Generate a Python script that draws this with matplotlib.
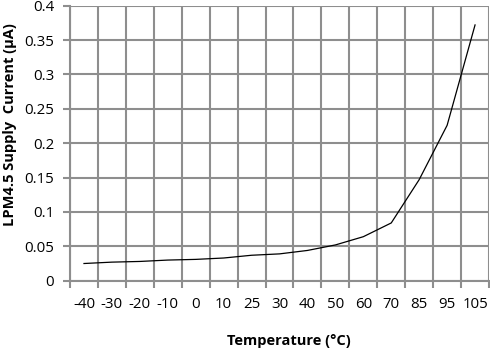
import matplotlib
matplotlib.use("Agg")
import matplotlib.pyplot as plt
import numpy as np

categories = ["-40", "-30", "-20", "-10", "0", "10", "25", "30", "40", "50", "60", "70", "85", "95", "105"]
current_uA = [0.025, 0.027, 0.028, 0.030, 0.031, 0.033, 0.037, 0.039, 0.044, 0.052, 0.064, 0.084, 0.147, 0.226, 0.372]
yticks = [0, 0.05, 0.1, 0.15, 0.2, 0.25, 0.3, 0.35, 0.4]
ytick_labels = ["0", "0.05", "0.1", "0.15", "0.2", "0.25", "0.3", "0.35", "0.4"]

plt.rcParams['font.family'] = ['Open Sans', 'DejaVu Sans']
grid_color = '#8e8e8e'

fig = plt.figure(figsize=(4.9, 3.51), dpi=100)
ax = fig.add_axes([0.1429, 0.2003, 0.998 - 0.1429, 0.9838 - 0.2003])

x = np.arange(len(categories))
ax.plot(x, current_uA, color='black', linewidth=0.9, zorder=3)

ax.set_xlim(-0.5, len(categories) - 0.5)
ax.set_ylim(0, 0.4)
ax.set_xticks(x)
ax.set_xticklabels(categories, fontsize=10.8)
ax.set_xticks(np.arange(-0.5, len(categories), 1.0), minor=True)
ax.set_yticks(yticks)
ax.set_yticklabels(ytick_labels, fontsize=10.8)

ax.tick_params(axis='x', which='major', length=0, pad=12)
ax.tick_params(axis='x', which='minor', length=5, width=1.5, color=grid_color, direction='out')
ax.tick_params(axis='y', which='major', length=5, width=1.5, color=grid_color, pad=6.5)

ax.grid(True, which='minor', axis='x', color=grid_color, linewidth=1.5)
ax.grid(True, which='major', axis='y', color=grid_color, linewidth=1.5)
ax.set_axisbelow(True)
for s in ['top', 'right']:
    ax.spines[s].set_visible(False)
for s in ['left', 'bottom']:
    ax.spines[s].set_color(grid_color)
    ax.spines[s].set_linewidth(1.5)

fig.text(288.5 / 490, 1 - 341 / 351, 'Temperature (°C)', fontsize=10.5, fontweight='bold',
         ha='center', va='center')
fig.text(10.5 / 490, 1 - 125 / 351, 'LPM4.5 Supply  Current (µA)', fontsize=10.5, fontweight='bold',
         ha='center', va='center', rotation=90)

fig.savefig('out.png', dpi=100)
